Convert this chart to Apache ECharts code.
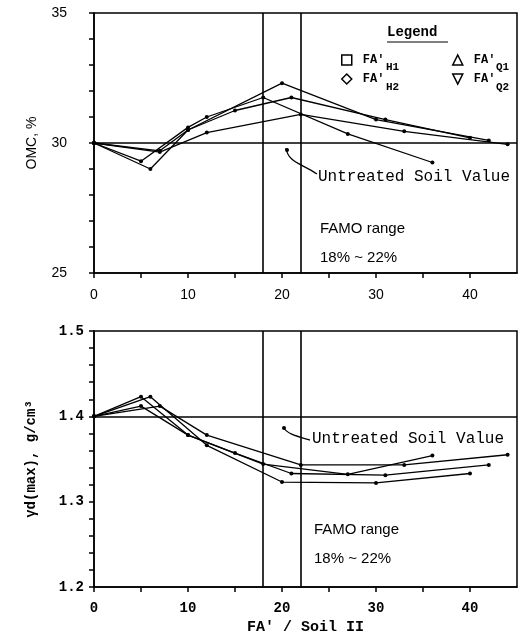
<!DOCTYPE html>
<html>
<head>
<meta charset="utf-8">
<script src="https://cdn.jsdelivr.net/npm/echarts@6/dist/echarts.min.js"></script>
<style>
  html, body { margin: 0; padding: 0; background: #fff; }
  #chart { width: 527px; height: 636px; }
</style>
</head>
<body>
<div id="chart"></div>
<script>
// series names (legend)
var seriesNames = ["FA'H1", "FA'H2", "FA'Q1", "FA'Q2"];

// top panel: OMC, %
var omcX_H1 = [0, 6, 10, 20, 30, 42];
var omcY_H1 = [30, 29.0, 30.5, 32.3, 30.9, 30.1];
var omcX_H2 = [0, 7, 12, 22, 33, 44];
var omcY_H2 = [30, 29.65, 30.4, 31.1, 30.45, 29.95];
var omcX_Q1 = [0, 7, 10, 15, 21, 31, 40];
var omcY_Q1 = [30, 29.7, 30.5, 31.25, 31.75, 30.9, 30.2];
var omcX_Q2 = [0, 5, 10, 12, 18, 27, 36];
var omcY_Q2 = [30, 29.3, 30.6, 31.0, 31.75, 30.35, 29.25];

// bottom panel: dry unit weight, g/cm3
var gdX_H1 = [0, 6, 12, 20, 30, 40];
var gdY_H1 = [1.40, 1.423, 1.366, 1.323, 1.322, 1.333];
var gdX_H2 = [0, 7, 12, 22, 33, 44];
var gdY_H2 = [1.40, 1.412, 1.378, 1.343, 1.343, 1.355];
var gdX_Q1 = [0, 5, 10, 15, 21, 31, 42];
var gdY_Q1 = [1.40, 1.412, 1.378, 1.357, 1.333, 1.331, 1.343];
var gdX_Q2 = [0, 5, 10, 18, 27, 36];
var gdY_Q2 = [1.40, 1.423, 1.378, 1.344, 1.332, 1.354];

var untreatedOMC = 30;
var untreatedGd = 1.40;
var famoRange = [18, 22];

var chart = echarts.init(document.getElementById('chart'));

function pairs(xs, ys) {
  return xs.map(function (x, i) { return [x, ys[i]]; });
}

var sans = 'Liberation Sans';
var mono = 'Liberation Mono';

function refLines(value, axisKey) {
  var data = famoRange.map(function (v) { return { xAxis: v }; });
  var h = {}; h[axisKey] = value;
  data.push(h);
  return {
    silent: true,
    symbol: 'none',
    label: { show: false },
    lineStyle: { color: '#000', width: 1.6, type: 'solid' },
    data: data
  };
}

function lineSeries(name, data, idx, extra) {
  var s = {
    name: name,
    type: 'line',
    xAxisIndex: idx,
    yAxisIndex: idx,
    data: data,
    symbol: 'circle',
    symbolSize: 4,
    itemStyle: { color: '#000' },
    lineStyle: { color: '#000', width: 1.3 },
    emphasis: { disabled: true },
    animation: false
  };
  if (extra) s.markLine = extra;
  return s;
}

var omcData = [pairs(omcX_H1, omcY_H1), pairs(omcX_H2, omcY_H2), pairs(omcX_Q1, omcY_Q1), pairs(omcX_Q2, omcY_Q2)];
var gdData = [pairs(gdX_H1, gdY_H1), pairs(gdX_H2, gdY_H2), pairs(gdX_Q1, gdY_Q1), pairs(gdX_Q2, gdY_Q2)];

var series = [];
seriesNames.forEach(function (n, i) {
  series.push(lineSeries(n, omcData[i], 0, i === 0 ? refLines(untreatedOMC, 'yAxis') : null));
});
seriesNames.forEach(function (n, i) {
  series.push(lineSeries(n, gdData[i], 1, i === 0 ? refLines(untreatedGd, 'yAxis') : null));
});

function tickStyle() {
  return { show: true, length: 5, lineStyle: { color: '#000', width: 1.5 } };
}

function xAxisCfg(idx, font, margin, name) {
  return {
    type: 'value',
    gridIndex: idx,
    min: 0,
    max: 45,
    interval: 5,
    name: name || '',
    nameLocation: 'middle',
    nameGap: 33,
    nameTextStyle: { fontFamily: mono, fontWeight: 'bold', fontSize: 15, color: '#000' },
    axisLine: { show: true, onZero: false, lineStyle: { color: '#000', width: 1.5 } },
    axisTick: tickStyle(),
    splitLine: { show: false },
    axisLabel: {
      color: '#000',
      fontFamily: font.family,
      fontWeight: font.weight,
      fontSize: 14,
      margin: margin,
      showMaxLabel: false,
      formatter: function (v) { return v % 10 === 0 ? String(v) : ''; }
    }
  };
}

function legendCfg(items, left) {
  return {
    data: items,
    orient: 'vertical',
    left: left, top: 49,
    itemWidth: 10, itemHeight: 10, itemGap: 7,
    itemStyle: { color: '#fff', borderColor: '#000', borderWidth: 1.5 },
    textStyle: { fontFamily: mono, fontWeight: 'bold', fontSize: 12, color: '#000', padding: [0, 0, 0, 6] },
    formatter: function () { return "FA'"; },
    selectedMode: false
  };
}

var subStyle = { fontFamily: mono, fontWeight: 'bold', fontSize: 11, fill: '#000' };

var option = {
  backgroundColor: '#fff',
  animation: false,
  grid: [
    { left: 94, top: 13, width: 423, height: 260, show: true, borderColor: '#000', borderWidth: 1.5 },
    { left: 94, top: 331, width: 423, height: 256, show: true, borderColor: '#000', borderWidth: 1.5 }
  ],
  legend: [
    legendCfg([{ name: "FA'H1", icon: 'rect' }, { name: "FA'H2", icon: 'diamond' }], 336),
    legendCfg([{ name: "FA'Q1", icon: 'triangle' }, { name: "FA'Q2", icon: 'path://M0,0 L10,0 L5,10 Z' }], 447)
  ],
  xAxis: [
    xAxisCfg(0, { family: sans, weight: 'normal' }, 15),
    xAxisCfg(1, { family: mono, weight: 'bold' }, 14, "FA' / Soil II")
  ],
  yAxis: [
    {
      type: 'value',
      gridIndex: 0,
      min: 25, max: 35, interval: 1,
      name: 'OMC, %',
      nameLocation: 'middle',
      nameGap: 55,
      nameTextStyle: { fontFamily: sans, fontSize: 14, color: '#000' },
      axisLine: { show: true, onZero: false, lineStyle: { color: '#000', width: 1.5 } },
      axisTick: tickStyle(),
      splitLine: { show: false },
      axisLabel: {
        color: '#000', fontFamily: sans, fontSize: 14, margin: 27,
        formatter: function (v) { return v % 5 === 0 ? String(v) : ''; }
      }
    },
    {
      type: 'value',
      gridIndex: 1,
      min: 1.2, max: 1.5, interval: 0.02,
      name: 'γd(max), g/cm³',
      nameLocation: 'middle',
      nameGap: 56,
      nameTextStyle: { fontFamily: mono, fontWeight: 'bold', fontSize: 14, color: '#000' },
      axisLine: { show: true, onZero: false, lineStyle: { color: '#000', width: 1.5 } },
      axisTick: tickStyle(),
      splitLine: { show: false },
      axisLabel: {
        color: '#000', fontFamily: mono, fontWeight: 'bold', fontSize: 14, margin: 10,
        formatter: function (v) {
          var t = v * 10;
          return Math.abs(t - Math.round(t)) < 1e-6 ? v.toFixed(1) : '';
        }
      }
    }
  ],
  graphic: [
    // legend heading
    { type: 'text', left: 387, top: 25, style: { text: 'Legend', fontFamily: mono, fontWeight: 'bold', fontSize: 14, fill: '#000' } },
    { type: 'line', shape: { x1: 387, y1: 42, x2: 448, y2: 42 }, style: { stroke: '#000', lineWidth: 1.2 } },
    // subscripts
    { type: 'text', left: 386, top: 62, style: echarts.util.extend({ text: 'H1' }, subStyle) },
    { type: 'text', left: 386, top: 82, style: echarts.util.extend({ text: 'H2' }, subStyle) },
    { type: 'text', left: 496, top: 62, style: echarts.util.extend({ text: 'Q1' }, subStyle) },
    { type: 'text', left: 496, top: 82, style: echarts.util.extend({ text: 'Q2' }, subStyle) },
    // top annotations
    { type: 'bezierCurve', shape: { x1: 286, y1: 148, x2: 317, y2: 174, cpx1: 288, cpy1: 162, cpx2: 300, cpy2: 163 }, style: { stroke: '#000', lineWidth: 1.3, fill: null } },
    { type: 'circle', shape: { cx: 287, cy: 150, r: 2 }, style: { fill: '#000' } },
    { type: 'text', left: 318, top: 169, style: { text: 'Untreated Soil Value', fontFamily: mono, fontSize: 16, fill: '#000' } },
    { type: 'text', left: 320, top: 221, style: { text: 'FAMO range', fontFamily: sans, fontSize: 15, fill: '#000' } },
    { type: 'text', left: 320, top: 250, style: { text: '18% ~ 22%', fontFamily: sans, fontSize: 15, fill: '#000' } },
    // bottom annotations
    { type: 'bezierCurve', shape: { x1: 283, y1: 427, x2: 310, y2: 440, cpx1: 287, cpy1: 434, cpx2: 296, cpy2: 436 }, style: { stroke: '#000', lineWidth: 1.3, fill: null } },
    { type: 'circle', shape: { cx: 284, cy: 428, r: 2 }, style: { fill: '#000' } },
    { type: 'text', left: 312, top: 431, style: { text: 'Untreated Soil Value', fontFamily: mono, fontSize: 16, fill: '#000' } },
    { type: 'text', left: 314, top: 522, style: { text: 'FAMO range', fontFamily: sans, fontSize: 15, fill: '#000' } },
    { type: 'text', left: 314, top: 551, style: { text: '18% ~ 22%', fontFamily: sans, fontSize: 15, fill: '#000' } }
  ],
  series: series
};

chart.setOption(option);
</script>
</body>
</html>
